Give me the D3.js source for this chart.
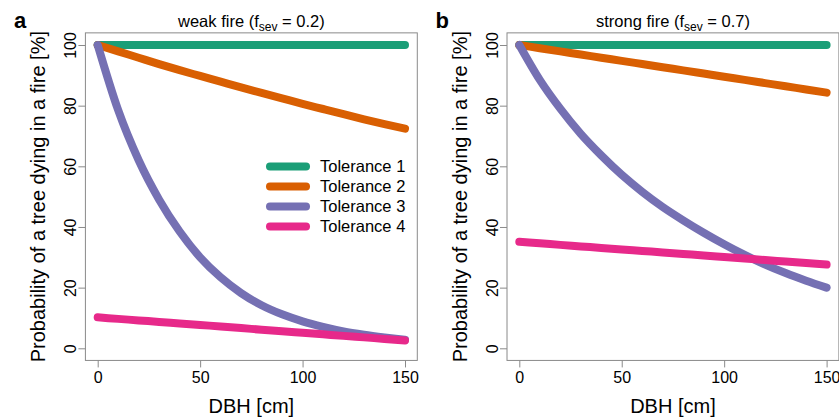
<!DOCTYPE html>
<html lang="en">
<meta charset="utf-8">
<head>
    <script src="https://d3js.org/d3.v7.min.js"></script>
    <style>
        body { margin: 0; background: #fff; }
        text { font-family: "Liberation Sans", Arial, sans-serif; }
    </style>
</head>
<body>
<div id="chart"></div>
<script>
// DBH values (cm) at which the curves were read
const dbh = [0, 10, 20, 30, 40, 50, 60, 70, 80, 90, 100, 110, 120, 130, 140, 150];

// weak fire (fsev = 0.2)
const weakTol1 = [100, 100, 100, 100, 100, 100, 100, 100, 100, 100, 100, 100, 100, 100, 100, 100];
const weakTol2 = [100, 97.9, 95.8, 93.7, 91.7, 89.8, 87.9, 86, 84.2, 82.4, 80.6, 78.9, 77.2, 75.5, 73.9, 72.4];
const weakTol3 = [100, 78.5, 62, 49, 38.5, 30, 23.4, 18.2, 14.2, 11.2, 8.9, 7.1, 5.6, 4.5, 3.6, 2.8];
const weakTol4 = [10.2, 9.7, 9.2, 8.7, 8.2, 7.7, 7.2, 6.7, 6.1, 5.6, 5.1, 4.6, 4.1, 3.6, 3.1, 2.6];

// strong fire (fsev = 0.7)
const strongTol1 = [100, 100, 100, 100, 100, 100, 100, 100, 100, 100, 100, 100, 100, 100, 100, 100];
const strongTol2 = [100, 98.95, 97.9, 96.86, 95.81, 94.77, 93.72, 92.67, 91.63, 90.58, 89.53, 88.49, 87.44, 86.39, 85.35, 84.3];
const strongTol3 = [100, 88.5, 79, 70.7, 63.6, 57.2, 51.6, 46.6, 42.2, 38.1, 34.3, 30.8, 27.6, 24.8, 22.3, 20];
const strongTol4 = [35.1, 34.6, 34.1, 33.6, 33.1, 32.6, 32.1, 31.6, 31.1, 30.6, 30.1, 29.6, 29.1, 28.6, 28.1, 27.6];

const tolNames = ["Tolerance 1", "Tolerance 2", "Tolerance 3", "Tolerance 4"];
const colors = ["#1B9E77", "#D95F02", "#7570B3", "#E7298A"];
const xTicks = [0, 50, 100, 150];
const yTicks = [0, 20, 40, 60, 80, 100];

const W = 839, H = 417;
const svg = d3.select("#chart").append("svg")
    .attr("width", W).attr("height", H);

const panels = [
    { letter: "a", title: "weak fire (f", fsev: "0.2", series: [weakTol1, weakTol2, weakTol3, weakTol4], dx: 0, legend: true },
    { letter: "b", title: "strong fire (f", fsev: "0.7", series: [strongTol1, strongTol2, strongTol3, strongTol4], dx: 421.6, legend: false }
];

const grey = "#8a8a8a";

panels.forEach(p => {
    const g = svg.append("g").attr("transform", `translate(${p.dx},0)`);

    const x = d3.scaleLinear().domain([0, 150]).range([97.7, 405]);
    const y = d3.scaleLinear().domain([0, 100]).range([348.3, 45]);
    const x0 = x(-6), x1 = x(156), y0 = y(-4), y1 = y(104);

    // plot box
    g.append("rect")
        .attr("x", x0).attr("y", y1)
        .attr("width", x1 - x0).attr("height", y0 - y1)
        .attr("fill", "none").attr("stroke", grey).attr("stroke-width", 1);

    // x axis
    const xa = g.append("g")
        .attr("transform", `translate(0,${y0})`)
        .call(d3.axisBottom(x).tickValues(xTicks).tickSize(7).tickPadding(4));
    xa.select(".domain").remove();
    xa.selectAll("line").attr("stroke", grey);
    xa.selectAll("text").attr("font-size", 16).attr("fill", "#000")
        .attr("font-family", "Liberation Sans, Arial, sans-serif");

    // y axis, labels rotated like R
    const ya = g.append("g")
        .attr("transform", `translate(${x0},0)`)
        .call(d3.axisLeft(y).tickValues(yTicks).tickSize(7));
    ya.select(".domain").remove();
    ya.selectAll("line").attr("stroke", grey);
    ya.selectAll("text")
        .attr("font-size", 16).attr("fill", "#000")
        .attr("font-family", "Liberation Sans, Arial, sans-serif")
        .attr("x", null).attr("dy", null)
        .attr("text-anchor", "middle")
        .attr("transform", "translate(-15,0) rotate(-90)")
        .attr("dy", "0.35em");

    // axis titles
    g.append("text")
        .attr("x", (x0 + x1) / 2).attr("y", 413)
        .attr("text-anchor", "middle").attr("font-size", 20)
        .text("DBH [cm]");
    g.append("text")
        .attr("transform", `translate(45,${(y0 + y1) / 2}) rotate(-90)`)
        .attr("text-anchor", "middle").attr("font-size", 20)
        .text("Probability of a tree dying in a fire [%]");

    // panel title
    const t = g.append("text")
        .attr("x", (x0 + x1) / 2).attr("y", 27)
        .attr("text-anchor", "middle").attr("font-size", 16.5);
    t.append("tspan").text(p.title);
    t.append("tspan").attr("font-size", 12).attr("dy", 4).text("sev");
    t.append("tspan").attr("dy", -4).text(" = " + p.fsev + ")");

    g.append("text")
        .attr("x", 14).attr("y", 28)
        .attr("font-size", 22).attr("font-weight", "bold")
        .text(p.letter);

    // curves
    const line = d3.line()
        .x((d, i) => x(dbh[i]))
        .y(d => y(d))
        .curve(d3.curveMonotoneX);

    p.series.forEach((s, k) => {
        g.append("path")
            .datum(s)
            .attr("fill", "none")
            .attr("stroke", colors[k])
            .attr("stroke-width", 8)
            .attr("stroke-linecap", "round")
            .attr("stroke-linejoin", "round")
            .attr("d", line);
    });

    // legend
    if (p.legend) {
        const lg = g.append("g");
        tolNames.forEach((name, k) => {
            const ly = 166.5 + k * 20;
            lg.append("line")
                .attr("x1", 270).attr("x2", 306)
                .attr("y1", ly).attr("y2", ly)
                .attr("stroke", colors[k]).attr("stroke-width", 8)
                .attr("stroke-linecap", "round");
            lg.append("text")
                .attr("x", 320).attr("y", ly)
                .attr("dy", "0.35em")
                .attr("font-size", 16.5)
                .text(name);
        });
    }
});
</script>
</body>
</html>
